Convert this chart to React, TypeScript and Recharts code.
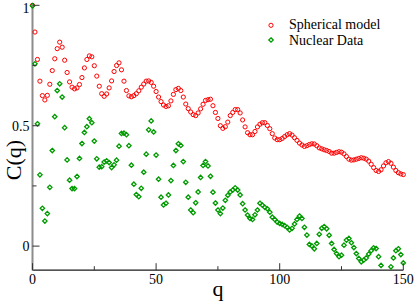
import React from 'react';
import { ScatterChart, Scatter, XAxis, YAxis, Legend } from 'recharts';

const qValues = [
  0, 1, 2, 3, 4, 5, 6, 7, 8, 9, 10, 11, 12, 13, 14, 15, 16, 17, 18, 19,
  20, 21, 22, 23, 24, 25, 26, 27, 28, 29, 30, 31, 32, 33, 34, 35, 36, 37, 38, 39,
  40, 41, 42, 43, 44, 45, 46, 47, 48, 49, 50, 51, 52, 53, 54, 55, 56, 57, 58, 59,
  60, 61, 62, 63, 64, 65, 66, 67, 68, 69, 70, 71, 72, 73, 74, 75, 76, 77, 78, 79,
  80, 81, 82, 83, 84, 85, 86, 87, 88, 89, 90, 91, 92, 93, 94, 95, 96, 97, 98, 99,
  100, 101, 102, 103, 104, 105, 106, 107, 108, 109, 110, 111, 112, 113, 114, 115, 116, 117, 118, 119,
  120, 121, 122, 123, 124, 125, 126, 127, 128, 129, 130, 131, 132, 133, 134, 135, 136, 137, 138, 139,
  140, 141, 142, 143, 144, 145, 146, 147, 148, 149, 150,
];

const sphericalModel = [
  1.0, 0.889, 0.775, 0.685, 0.625, 0.607, 0.626, 0.672, 0.729, 0.778,
  0.82, 0.847, 0.826, 0.772, 0.721, 0.682, 0.66, 0.653, 0.657, 0.671,
  0.7, 0.74, 0.775, 0.79, 0.786, 0.749, 0.706, 0.664, 0.633, 0.622,
  0.632, 0.657, 0.686, 0.725, 0.75, 0.761, 0.732, 0.685, 0.646, 0.624,
  0.62, 0.625, 0.633, 0.645, 0.66, 0.673, 0.685, 0.686, 0.68, 0.664,
  0.642, 0.619, 0.6, 0.586, 0.58, 0.583, 0.603, 0.63, 0.65, 0.655,
  0.646, 0.619, 0.59, 0.571, 0.557, 0.546, 0.542, 0.553, 0.57, 0.589,
  0.605, 0.608, 0.61, 0.583, 0.555, 0.53, 0.5, 0.489, 0.496, 0.515,
  0.542, 0.555, 0.567, 0.567, 0.553, 0.524, 0.495, 0.471, 0.4625, 0.4625,
  0.476, 0.495, 0.506, 0.5125, 0.5125, 0.501, 0.4875, 0.467, 0.449, 0.442,
  0.442, 0.447, 0.455, 0.4625, 0.467, 0.461, 0.45, 0.439, 0.428, 0.42,
  0.414, 0.417, 0.422, 0.425, 0.424, 0.417, 0.408, 0.404, 0.4, 0.397,
  0.393, 0.386, 0.386, 0.389, 0.392, 0.39, 0.383, 0.372, 0.361, 0.357,
  0.358, 0.361, 0.364, 0.367, 0.365, 0.361, 0.353, 0.34, 0.326, 0.314,
  0.31, 0.317, 0.333, 0.346, 0.351, 0.344, 0.328, 0.314, 0.305, 0.3,
  0.297,
];

const nuclearData = [
  0.998, 0.757, 0.508, 0.296, 0.157, 0.104, 0.135, 0.244, 0.397, 0.5375,
  0.646, 0.674, 0.619, 0.492, 0.358, 0.274, 0.239, 0.239, 0.289, 0.364,
  0.426, 0.472, 0.496, 0.529, 0.5125, 0.436, 0.3625, 0.328, 0.33, 0.349,
  0.354, 0.347, 0.326, 0.3375, 0.357, 0.415, 0.468, 0.469, 0.4625, 0.417,
  0.336, 0.257, 0.214, 0.205, 0.24, 0.307, 0.382, 0.483, 0.52, 0.474,
  0.378, 0.278, 0.203, 0.171, 0.178, 0.2125, 0.272, 0.335, 0.397, 0.425,
  0.418, 0.351, 0.265, 0.203, 0.15, 0.139, 0.18, 0.225, 0.285, 0.335,
  0.351, 0.333, 0.29, 0.224, 0.179, 0.15, 0.135, 0.158, 0.19, 0.211,
  0.225, 0.233, 0.242, 0.233, 0.2125, 0.176, 0.15, 0.129, 0.115, 0.111,
  0.13, 0.15, 0.178, 0.17, 0.161, 0.155, 0.141, 0.12, 0.111, 0.1,
  0.094, 0.09, 0.085, 0.078, 0.067, 0.074, 0.092, 0.111, 0.125, 0.115,
  0.078, 0.046, 0.007, 0.001, -0.011, 0.011, 0.049, 0.074, 0.081, 0.072,
  0.045, 0.011, -0.014, -0.031, -0.044, -0.0375, 0.004, 0.025, 0.032, 0.014,
  -0.006, -0.031, -0.051, -0.065, -0.058, -0.049, -0.033, -0.019, -0.007, -0.01,
  -0.044, -0.08, -0.115, -0.13, -0.115, -0.086, -0.049, -0.019, -0.011, -0.035,
  -0.07,
];

const seriesNames = ['Spherical model', 'Nuclear Data'];
const xTicks = [0, 25, 50, 75, 100, 125, 150];
const xTickLabels: Record<string, string> = { '0': '0', '50': '50', '100': '100', '150': '150' };
const yTicks = [0, 0.25, 0.5, 0.75, 1];
const yTickLabels: Record<string, string> = { '0': '0', '0.5': '0.5', '1': '1' };
const xDomain: [number, number] = [0, 150];
const yDomain: [number, number] = [-0.1, 1];
const xTitle = 'q';
const yTitle = 'C(q)';

const RED = '#ff0000';
const GREEN = '#009a00';
const SERIF = 'Liberation Serif';
const TICK_COLOR = '#333';

// points outside the y range are not visible in the original (clipped by the frame)
const sphericalPoints = qValues
  .map((q, i) => ({ q, c: sphericalModel[i] }))
  .filter((p) => p.c >= yDomain[0] && p.c <= yDomain[1]);
const nuclearPoints = qValues
  .map((q, i) => ({ q, c: nuclearData[i] }))
  .filter((p) => p.c >= yDomain[0] && p.c <= yDomain[1]);

const RedCircle = (props: any) => {
  const { cx, cy } = props;
  if (cx == null || cy == null) return <g />;
  return <circle cx={cx} cy={cy} r={2.1} fill="none" stroke={RED} strokeWidth={1} />;
};

const GreenDiamond = (props: any) => {
  const { cx, cy } = props;
  if (cx == null || cy == null) return <g />;
  const d = 2.2;
  return (
    <path
      d={`M${cx},${cy - d}L${cx + d},${cy}L${cx},${cy + d}L${cx - d},${cy}Z`}
      fill="none"
      stroke={GREEN}
      strokeWidth={1.3}
    />
  );
};

const BottomTick = (props: any) => {
  const { x, y, payload } = props;
  const key = String(payload.value);
  const label = xTickLabels[key];
  const len = label !== undefined ? 7 : 4;
  return (
    <g>
      <line x1={x} x2={x} y1={y} y2={y - len} stroke={TICK_COLOR} strokeWidth={1} />
      {label !== undefined && (
        <text x={x} y={y + 14} textAnchor="middle" fontFamily={SERIF} fontSize={14} fill="#000">
          {label}
        </text>
      )}
    </g>
  );
};

const TopTick = (props: any) => {
  const { x, y, payload } = props;
  const key = String(payload.value);
  const len = xTickLabels[key] !== undefined ? 7 : 4;
  return <line x1={x} x2={x} y1={y} y2={y + len} stroke={TICK_COLOR} strokeWidth={1} />;
};

const LeftTick = (props: any) => {
  const { x, y, payload } = props;
  const key = String(payload.value);
  const label = yTickLabels[key];
  const len = label !== undefined ? 7 : 4;
  // keep the top label fully inside the picture
  const baseline = Math.max(y + 4.8, 13);
  return (
    <g>
      <line x1={x} x2={x + len} y1={y} y2={y} stroke={TICK_COLOR} strokeWidth={1} />
      {label !== undefined && (
        <text x={x - 3} y={baseline} textAnchor="end" fontFamily={SERIF} fontSize={14} fill="#000">
          {label}
        </text>
      )}
    </g>
  );
};

const RightTick = (props: any) => {
  const { x, y, payload } = props;
  const key = String(payload.value);
  const len = yTickLabels[key] !== undefined ? 7 : 4;
  return <line x1={x} x2={x - len} y1={y} y2={y} stroke={TICK_COLOR} strokeWidth={1} />;
};

const XTitle = (props: any) => {
  const vb = props.viewBox || {};
  const x = (vb.x ?? 32.5) + (vb.width ?? 370.8) / 2;
  const y = (vb.y ?? 270.2) + 26;
  return (
    <text x={x} y={y} textAnchor="middle" fontFamily={SERIF} fontSize={22} fill="#000">
      {xTitle}
    </text>
  );
};

const YTitle = () => {
  const x = 21;
  const y = 160;
  return (
    <text
      x={x}
      y={y}
      textAnchor="middle"
      transform={`rotate(-90, ${x}, ${y})`}
      fontFamily={SERIF}
      fontSize={22}
      fill="#000"
    >
      {yTitle}
    </text>
  );
};

const LegendContent = () => (
  <svg width={145} height={36} style={{ display: 'block', overflow: 'visible' }}>
    <circle cx={7} cy={11.3} r={2.1} fill="none" stroke={RED} strokeWidth={1} />
    <text x={25} y={15} fontFamily={SERIF} fontSize={14} fill="#000">
      {seriesNames[0]}
    </text>
    <path d="M7,23.8L9.2,26L7,28.2L4.8,26Z" fill="none" stroke={GREEN} strokeWidth={1.3} />
    <text x={25} y={30.5} fontFamily={SERIF} fontSize={14} fill="#000">
      {seriesNames[1]}
    </text>
  </svg>
);

export default function App() {
  return (
    <div style={{ position: 'absolute', left: 0, top: 0, width: 415, height: 304, background: '#fff' }}>
      <ScatterChart width={415} height={304} margin={{ top: 5.3, right: 11.7, bottom: 0, left: 0 }}>
        <XAxis
          xAxisId="main"
          dataKey="q"
          type="number"
          domain={xDomain}
          ticks={xTicks}
          interval={0}
          tickSize={0}
          tickMargin={0}
          tickLine={false}
          axisLine={{ stroke: '#1a1a1a', strokeWidth: 1.2 }}
          tick={BottomTick}
          height={33.8}
          label={XTitle}
        />
        <XAxis
          xAxisId="top"
          orientation="top"
          type="number"
          domain={xDomain}
          allowDataOverflow
          ticks={xTicks}
          interval={0}
          tickSize={0}
          tickMargin={0}
          tickLine={false}
          axisLine={{ stroke: '#8c8c8c', strokeWidth: 2 }}
          tick={TopTick}
          height={0}
        />
        <YAxis
          yAxisId="main"
          dataKey="c"
          type="number"
          domain={yDomain}
          ticks={yTicks}
          interval={0}
          tickSize={0}
          tickMargin={0}
          tickLine={false}
          axisLine={{ stroke: '#8c8c8c', strokeWidth: 2 }}
          tick={LeftTick}
          width={32.5}
          label={YTitle}
        />
        <YAxis
          yAxisId="right"
          orientation="right"
          type="number"
          domain={yDomain}
          allowDataOverflow
          ticks={yTicks}
          interval={0}
          tickSize={0}
          tickMargin={0}
          tickLine={false}
          axisLine={{ stroke: '#1a1a1a', strokeWidth: 1.2 }}
          tick={RightTick}
          width={0}
        />
        <Scatter
          xAxisId="main"
          yAxisId="main"
          name={seriesNames[0]}
          data={sphericalPoints}
          fill={RED}
          shape={RedCircle}
          isAnimationActive={false}
        />
        <Scatter
          xAxisId="main"
          yAxisId="main"
          name={seriesNames[1]}
          data={nuclearPoints}
          fill={GREEN}
          shape={GreenDiamond}
          isAnimationActive={false}
        />
        <Legend
          layout="horizontal"
          verticalAlign="middle"
          align="center"
          wrapperStyle={{ left: 264, top: 14, width: 145, height: 36 }}
          content={LegendContent}
        />
      </ScatterChart>
    </div>
  );
}
